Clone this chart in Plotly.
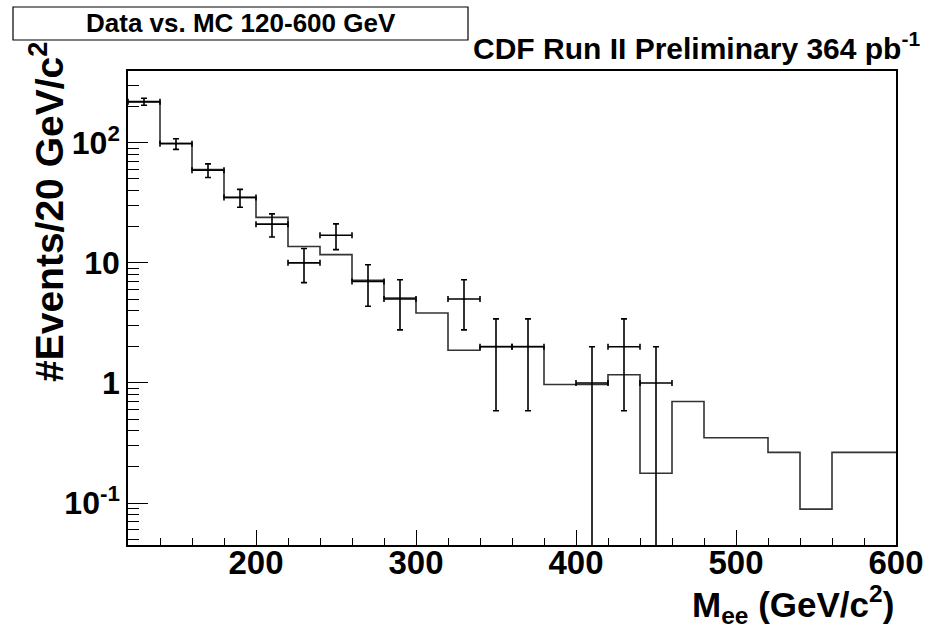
import plotly.graph_objects as go
import numpy as np

# MC histogram: bin low edges (GeV/c^2) and contents
mc_edges = [120, 140, 160, 180, 200, 220, 240, 260, 280, 300, 320, 340, 360,
            380, 400, 420, 440, 460, 480, 500, 520, 540, 560, 580, 600]
mc_vals = [219, 99, 59.8, 35.1, 23.9, 13.7, 11.7, 7.14, 5.09, 3.82, 1.87, 2.01,
           2.01, 0.97, 0.97, 1.17, 0.177, 0.70, 0.35, 0.35, 0.264, 0.089, 0.264, 0.264]

# Data: bin centres and event counts (bins with zero events omitted)
data_x = [130, 150, 170, 190, 210, 230, 250, 270, 290, 330, 350, 370, 410, 430, 450]
data_n = [220, 98, 59, 35, 21, 10, 17, 7, 5, 5, 2, 2, 1, 2, 1]
bin_half = 10

y_tickvals = [0.1, 1, 10, 100]
y_ticktext = ["10<sup>-1</sup>", "1", "10", "10<sup>2</sup>"]
x_tickvals = [200, 300, 400, 500, 600]

FONT = "Liberation Sans, Arial, Helvetica, sans-serif"

step_x = mc_edges[:-1] + [mc_edges[-1]]
step_y = mc_vals + [mc_vals[-1]]

err = np.sqrt(np.array(data_n, dtype=float))

fig = go.Figure()
fig.add_trace(go.Scatter(
    x=step_x, y=step_y, mode="lines", line=dict(shape="hv", color="#333333", width=1.6),
    showlegend=False, hoverinfo="skip"))
fig.add_trace(go.Scatter(
    x=data_x, y=data_n, mode="markers",
    marker=dict(size=2, color="black"),
    error_x=dict(type="constant", value=bin_half, color="black", thickness=1.6, width=3),
    error_y=dict(type="data", array=err.tolist(), arrayminus=err.tolist(),
                 color="black", thickness=1.6, width=3),
    showlegend=False))

minor_y = []
for d in [0.01, 0.1, 1, 10, 100]:
    for k in range(2, 10):
        minor_y.append(k * d)

fig.update_layout(
    width=941, height=632,
    margin=dict(l=128, r=45, t=71, b=87),
    paper_bgcolor="white", plot_bgcolor="white",
    font=dict(family=FONT, color="black"),
    xaxis=dict(
        range=[120, 600], showline=True, linecolor="black", linewidth=1.5, mirror=True,
        showgrid=False, zeroline=False,
        ticks="inside", ticklen=15, tickwidth=1.2, tickcolor="black",
        tickmode="array", tickvals=x_tickvals,
        tickfont=dict(family=FONT, size=33, weight="bold"),
        ticklabelstandoff=-12,
        minor=dict(ticks="inside", ticklen=7, tickwidth=1.2, tickcolor="black",
                   tickmode="linear", tick0=0, dtick=20),
    ),
    yaxis=dict(
        type="log", range=[np.log10(0.0447), np.log10(396)],
        showline=True, linecolor="black", linewidth=1.5, mirror=True,
        showgrid=False, zeroline=False,
        ticks="inside", ticklen=20, tickwidth=1.2, tickcolor="black",
        tickmode="array", tickvals=y_tickvals, ticktext=y_ticktext,
        tickfont=dict(family=FONT, size=32, weight="bold"),
        minor=dict(ticks="inside", ticklen=11, tickwidth=1.2, tickcolor="black",
                   tickmode="array", tickvals=minor_y),
    ),
)

def px_to_paper_x(px):
    return (px - 128) / 768.0

def px_to_paper_y(py):
    return (545 - py) / 474.0

fig.add_shape(type="rect", xref="paper", yref="paper",
              x0=px_to_paper_x(13), x1=px_to_paper_x(468),
              y0=px_to_paper_y(40), y1=px_to_paper_y(7),
              line=dict(color="black", width=1.2), fillcolor="white", layer="above")

fig.add_annotation(xref="paper", yref="paper", x=px_to_paper_x(241), y=px_to_paper_y(23),
                   text="Data vs. MC 120-600 GeV", showarrow=False,
                   xanchor="center", yanchor="middle",
                   font=dict(family=FONT, size=26, weight="bold"))

fig.add_annotation(xref="paper", yref="paper", x=px_to_paper_x(922), y=px_to_paper_y(67),
                   text="CDF Run II Preliminary 364 pb<sup>-1</sup>", showarrow=False,
                   xanchor="right", yanchor="bottom",
                   font=dict(family=FONT, size=30, weight="bold"))

fig.add_annotation(xref="paper", yref="paper", x=px_to_paper_x(896), y=px_to_paper_y(604),
                   text="M<sub>ee</sub> (GeV/c<sup>2</sup>)", showarrow=False,
                   xanchor="right", yanchor="middle",
                   font=dict(family=FONT, size=35, weight="bold"))

fig.add_annotation(xref="paper", yref="paper", x=px_to_paper_x(46), y=px_to_paper_y(212),
                   text="#Events/20 GeV/c<sup>2</sup>", showarrow=False, textangle=-90,
                   xanchor="center", yanchor="middle",
                   font=dict(family=FONT, size=39, weight="bold"))

fig.write_html("out.html")
